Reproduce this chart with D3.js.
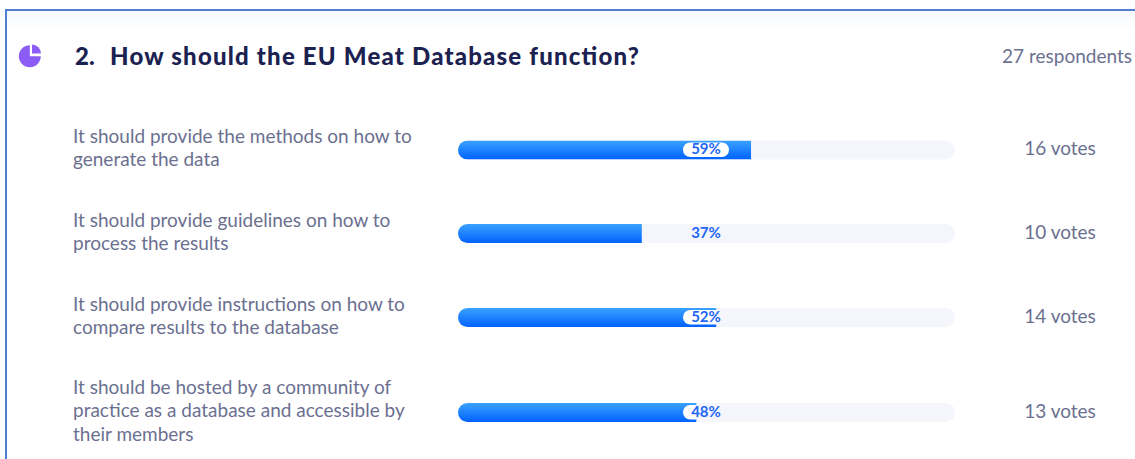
<!DOCTYPE html>
<html><head><meta charset="utf-8">
<script src="https://cdn.jsdelivr.net/npm/d3@7/dist/d3.min.js"></script>
<style>html,body{margin:0;padding:0;background:#fff;overflow:hidden}svg{display:block}</style>
</head><body><svg id="c" width="1135" height="459"></svg>
<script>
const title = ["2.", "How should the EU Meat Database function?"];
const respondents = "27 respondents";
const labels = [
  ["It should provide the methods on how to","generate the data"],
  ["It should provide guidelines on how to","process the results"],
  ["It should provide instructions on how to","compare results to the database"],
  ["It should be hosted by a community of","practice as a database and accessible by","their members"]
];
const percents = [59,37,52,48];
const votes = [16,10,14,13];
const bandCentres = [150,233.5,317.5,412.5];

const FONT = "Lato, 'Noto Sans', sans-serif";
const svg = d3.select("#c");
const x = d3.scaleLinear().domain([0,100]).range([458,955]);
const barH = 19;

const defs = svg.append("defs");
const g1 = defs.append("linearGradient").attr("id","fill").attr("x1",0).attr("x2",0).attr("y1",0).attr("y2",1);
g1.append("stop").attr("offset",0).attr("stop-color","#3ba2ff");
g1.append("stop").attr("offset",1).attr("stop-color","#0062ff");
const g2 = defs.append("linearGradient").attr("id","top").attr("x1",0).attr("x2",0).attr("y1",0).attr("y2",1);
g2.append("stop").attr("offset",0).attr("stop-color","#f6f7fc");
g2.append("stop").attr("offset",1).attr("stop-color","#ffffff");

svg.append("rect").attr("x",7).attr("y",11).attr("width",1128).attr("height",18).attr("fill","url(#top)");
svg.append("path").attr("d","M6,459V10H1135").attr("fill","none").attr("stroke","#4f7fd0").attr("stroke-width",2);

// pie icon
const arc = d3.arc();
const icon = svg.append("g").attr("transform","translate(29.5,56)");
icon.append("path").attr("fill","#8b5cf6").attr("transform","translate(0.3,0.3)").attr("d",arc({innerRadius:0,outerRadius:11,startAngle:Math.PI/2,endAngle:2*Math.PI}));
icon.append("path").attr("fill","#8b5cf6").attr("transform","translate(2.5,-2.5)").attr("d",arc({innerRadius:0,outerRadius:9,startAngle:0,endAngle:Math.PI/2}));

svg.append("text").attr("x",75).attr("y",64.5).attr("font-family",FONT).attr("font-weight",900).attr("font-size",24).attr("fill","#1b2150").text(title[0]);
svg.append("text").attr("x",110).attr("y",64.5).attr("font-family",FONT).attr("font-weight",900).attr("font-size",24).attr("fill","#1b2150")
  .attr("textLength",529).attr("lengthAdjust","spacing").text(title[1]);
svg.append("text").attr("x",1132).attr("y",62.5).attr("text-anchor","end").attr("font-family",FONT).attr("font-size",19).attr("fill","#6b7090").text(respondents);

const rows = svg.selectAll("g.row").data(percents).join("g").attr("class","row");
rows.each(function(p,i){
  const g = d3.select(this), cy = bandCentres[i], top = cy-barH/2;
  const lines = labels[i], startY = cy + 4.7 - (lines.length-1)*11.7 ;
  lines.forEach((t,j)=>g.append("text").attr("x",73).attr("y",startY+j*23.4)
    .attr("font-family",FONT).attr("font-size",19).attr("fill","#6b7090").text(t));
  g.append("rect").attr("x",x(0)).attr("y",top).attr("width",x(100)-x(0)).attr("height",barH).attr("rx",9.5).attr("fill","#f5f6fb");
  const w = x(p)-x(0);
  const cid = "clip"+i;
  defs.append("clipPath").attr("id",cid).append("path")
    .attr("d",`M${x(0)+9.5},${top}H${x(p)}V${top+barH}H${x(0)+9.5}A9.5,9.5 0 0 1 ${x(0)+9.5},${top}Z`);
  g.append("rect").attr("x",x(0)).attr("y",top).attr("width",w).attr("height",barH).attr("fill","url(#fill)").attr("clip-path",`url(#${cid})`);
  g.append("rect").attr("x",683).attr("y",top+2).attr("width",46).attr("height",14.5).attr("rx",7.25).attr("fill","#fff").attr("clip-path",`url(#${cid})`);
  g.append("text").attr("x",706).attr("y",cy+4).attr("text-anchor","middle").attr("font-family",FONT).attr("font-weight",700).attr("font-size",15).attr("fill","#1f66f5").text(p+"%");
  g.append("text").attr("x",1060).attr("y",cy+5).attr("text-anchor","middle").attr("font-family",FONT).attr("font-size",19).attr("fill","#6b7090").text(votes[i]+" votes");
});
</script></body></html>
